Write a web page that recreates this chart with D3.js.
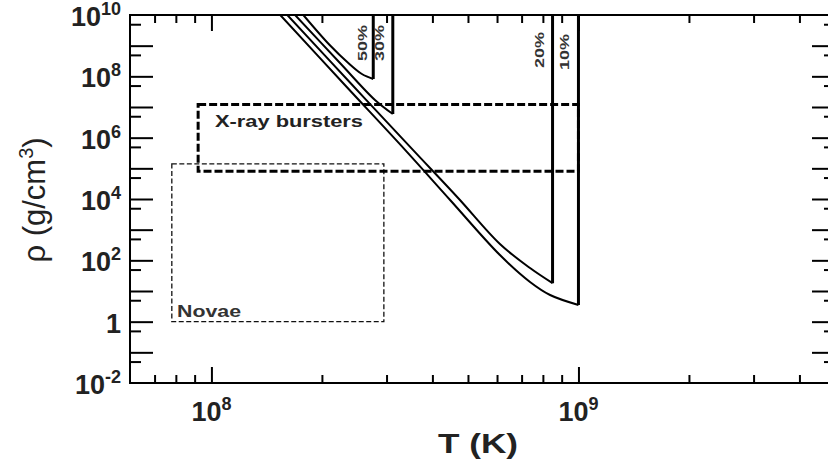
<!doctype html>
<html lang="en">
<head>
<meta charset="UTF-8">
<script src="https://cdnjs.cloudflare.com/ajax/libs/d3/7.8.5/d3.min.js"></script>
<title>Breakout</title>
<style>
    body { margin: 0; background: #fff; }
    text { font-family: "Liberation Sans", Arial, sans-serif; }
</style>
</head>
<body>
<div id="viz_area"></div>
<script>
    const width = 828, height = 462;
    const plot = {left: 130, right: 835, top: 15, bottom: 383};

    // axis ticks
    const xMajorTicks = [1e8, 1e9];
    const xMinorTicks = [7e7, 8e7, 9e7, 2e8, 3e8, 4e8, 5e8, 6e8, 7e8, 8e8, 9e8, 2e9, 3e9, 4e9];
    const yMajorTicks = [1e-1, 1e0, 1e1, 1e2, 1e3, 1e4, 1e5, 1e6, 1e7, 1e8, 1e9];
    const yMinorTicks = [5e-2, 5e-1, 5e0, 5e1, 5e2, 5e3, 5e4, 5e5, 5e6, 5e7, 5e8, 5e9];
    const xLabelExp = [8, 9];
    const yLabelExp = [10, 8, 6, 4, 2, 0, -2];

    // breakout curves (T in K, rho in g/cm3)
    const curveNames = ["10%", "20%", "30%", "50%"];
    const temp10 = [1.54e8, 2.31e8, 3.37e8, 4.47e8, 6.11e8, 7.38e8, 8.37e8, 1.0e9];
    const rho10  = [1e10, 5.2e7, 4.0e5, 9.3e3, 149, 19.7, 7.4, 3.5];
    const temp20 = [1.61e8, 2.42e8, 3.54e8, 4.70e8, 6.11e8, 7.38e8, 8.5e8];
    const rho20  = [1e10, 5.2e7, 4.0e5, 1.08e4, 341, 56, 18];
    const temp30 = [1.69e8, 2.24e8, 2.79e8, 3.12e8];
    const rho30  = [1e10, 2.72e8, 1.69e7, 5.9e6];
    const temp50 = [1.78e8, 2.10e8, 2.36e8, 2.57e8, 2.76e8];
    const rho50  = [1e10, 1.05e9, 2.72e8, 1.19e8, 8.2e7];

    // regions
    const xrayT = [9.2e7, 1e9];
    const xrayRho = [8e4, 1.2e7];
    const novaeT = [7.8e7, 2.95e8];
    const novaeRho = [1, 1.4e5];

    const svg = d3.select("#viz_area").append("svg")
        .attr("width", width).attr("height", height)
        .style("display", "block");

    const x = d3.scaleLog().domain([6e7, 5e9]).range([plot.left, plot.right]);
    const y = d3.scaleLog().domain([1e-2, 1e10]).range([plot.bottom, plot.top]);

    svg.append("clipPath").attr("id", "clip")
        .append("rect")
        .attr("x", plot.left).attr("y", plot.top)
        .attr("width", plot.right - plot.left).attr("height", plot.bottom - plot.top);

    const area = svg.append("g").attr("clip-path", "url(#clip)");

    // novae box
    area.append("rect")
        .attr("x", x(novaeT[0])).attr("y", y(novaeRho[1]))
        .attr("width", x(novaeT[1]) - x(novaeT[0]))
        .attr("height", y(novaeRho[0]) - y(novaeRho[1]))
        .attr("fill", "none").attr("stroke", "#111")
        .attr("stroke-width", 1.3).attr("stroke-dasharray", "5,2.5");

    // x-ray burster box
    area.append("rect")
        .attr("x", x(xrayT[0])).attr("y", y(xrayRho[1]))
        .attr("width", x(xrayT[1]) - x(xrayT[0]))
        .attr("height", y(xrayRho[0]) - y(xrayRho[1]))
        .attr("fill", "none").attr("stroke", "#000")
        .attr("stroke-width", 3).attr("stroke-dasharray", "8,3");

    const curves = [
        d3.zip(temp10, rho10),
        d3.zip(temp20, rho20),
        d3.zip(temp30, rho30),
        d3.zip(temp50, rho50)
    ];

    const line = d3.line()
        .x(d => x(d[0]))
        .y(d => y(d[1]))
        .curve(d3.curveCatmullRom);

    area.selectAll("path.curve")
        .data(curves)
        .join("path")
        .attr("class", "curve")
        .attr("d", line)
        .attr("fill", "none")
        .attr("stroke", "#000")
        .attr("stroke-width", 2);

    // vertical cut-off lines
    area.selectAll("line.cut")
        .data(curves)
        .join("line")
        .attr("class", "cut")
        .attr("x1", d => x(d[d.length - 1][0]))
        .attr("x2", d => x(d[d.length - 1][0]))
        .attr("y1", d => y(d[d.length - 1][1]))
        .attr("y2", y(1e10))
        .attr("stroke", "#000")
        .attr("stroke-width", 3);

    // percentage labels
    const labelY = {"10%": 52, "20%": 50, "30%": 43, "50%": 43};
    const labelDx = {"10%": -14, "20%": -13, "30%": -13, "50%": -10.5};
    curves.forEach((c, i) => {
        const name = curveNames[i];
        const cx = x(c[c.length - 1][0]) + labelDx[name];
        svg.append("text")
            .attr("transform", `translate(${cx},${labelY[name]}) rotate(-90)`)
            .attr("text-anchor", "middle")
            .attr("dy", "0.36em")
            .attr("font-size", 13)
            .attr("font-weight", "bold")
            .attr("fill", "#333")
            .attr("textLength", 36)
            .attr("lengthAdjust", "spacingAndGlyphs")
            .text(name);
    });

    // region labels
    svg.append("text")
        .attr("x", 215).attr("y", 127)
        .attr("font-size", 16).attr("font-weight", "bold").attr("fill", "#222")
        .attr("textLength", 148).attr("lengthAdjust", "spacingAndGlyphs")
        .text("X-ray bursters");

    svg.append("text")
        .attr("x", 177).attr("y", 317)
        .attr("font-size", 17).attr("font-weight", "bold").attr("fill", "#333")
        .attr("textLength", 64).attr("lengthAdjust", "spacingAndGlyphs")
        .text("Novae");

    // ticks on all four sides
    function ticks(axis, transform) {
        svg.append("g")
            .attr("transform", transform)
            .call(axis.tickFormat("").tickSizeOuter(0))
            .call(g => g.select(".domain").remove())
            .call(g => g.selectAll("line").attr("stroke", "#000").attr("stroke-width", 2));
    }
    ticks(d3.axisTop(x).tickValues(xMajorTicks).tickSize(16), `translate(0,${plot.bottom})`);
    ticks(d3.axisTop(x).tickValues(xMinorTicks).tickSize(8), `translate(0,${plot.bottom})`);
    ticks(d3.axisBottom(x).tickValues(xMajorTicks).tickSize(16), `translate(0,${plot.top})`);
    ticks(d3.axisBottom(x).tickValues(xMinorTicks).tickSize(8), `translate(0,${plot.top})`);
    ticks(d3.axisRight(y).tickValues(yMajorTicks).tickSize(23), `translate(${plot.left},0)`);
    ticks(d3.axisRight(y).tickValues(yMinorTicks).tickSize(11), `translate(${plot.left},0)`);
    ticks(d3.axisLeft(y).tickValues(yMajorTicks).tickSize(23), `translate(${plot.right},0)`);
    ticks(d3.axisLeft(y).tickValues(yMinorTicks).tickSize(11), `translate(${plot.right},0)`);

    // frame
    svg.append("rect")
        .attr("x", plot.left).attr("y", plot.top)
        .attr("width", plot.right - plot.left).attr("height", plot.bottom - plot.top)
        .attr("fill", "none").attr("stroke", "#000").attr("stroke-width", 2);

    // tick labels
    yLabelExp.forEach(e => {
        const t = svg.append("text")
            .attr("x", 121).attr("y", y(10 ** e) + 11)
            .attr("text-anchor", "end")
            .attr("font-size", 27).attr("font-weight", "bold").attr("fill", "#222");
        if (e === 0) {
            t.text("1");
        } else {
            t.append("tspan").text("10");
            t.append("tspan").attr("dy", -11).attr("font-size", 18).text(e);
        }
    });

    xLabelExp.forEach(e => {
        const t = svg.append("text")
            .attr("x", x(10 ** e)).attr("y", 421)
            .attr("text-anchor", "middle")
            .attr("font-size", 27).attr("font-weight", "bold").attr("fill", "#222");
        t.append("tspan").text("10");
        t.append("tspan").attr("dy", -11).attr("font-size", 18).text(e);
    });

    // axis titles
    svg.append("text")
        .attr("x", 478).attr("y", 453)
        .attr("text-anchor", "middle")
        .attr("font-size", 28).attr("font-weight", "bold").attr("fill", "#222")
        .attr("textLength", 80).attr("lengthAdjust", "spacingAndGlyphs")
        .text("T (K)");

    const yt = svg.append("text")
        .attr("transform", "translate(45,200) rotate(-90)")
        .attr("text-anchor", "middle")
        .attr("font-size", 31).attr("fill", "#222");
    yt.append("tspan").text("\u03c1 (g/cm");
    yt.append("tspan").attr("dy", -12).attr("font-size", 20).text("3");
    yt.append("tspan").attr("dy", 12).text(")");
</script>
</body>
</html>
